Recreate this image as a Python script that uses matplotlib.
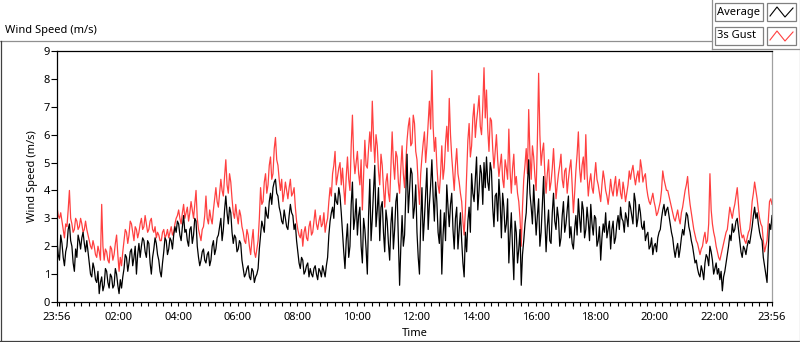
import matplotlib
matplotlib.use("Agg")
import matplotlib.pyplot as plt
from matplotlib.lines import Line2D
from matplotlib.patches import Rectangle
import numpy as np

plt.rcParams['font.family'] = ['Noto Sans', 'DejaVu Sans']

# readings every 5 minutes from 23:56, plus the readings half way between them
step_min = 5

avg = [
    2.2, 1.5, 2.1, 1.3, 2.0, 2.8, 2.0, 1.1, 1.6, 2.2, 2.3, 2.1,
    2.2, 1.4, 0.9, 1.2, 0.7, 0.3, 0.9, 0.6, 1.1, 0.5, 0.9, 0.6,
    1.0, 0.3, 0.5, 1.2, 1.6, 1.4, 1.9, 1.6, 1.0, 2.1, 2.0, 2.2,
    1.6, 2.1, 1.0, 1.9, 2.1, 1.5, 0.9, 1.8, 2.2, 1.9, 2.2, 2.4,
    2.5, 2.8, 2.2, 3.1, 2.6, 2.0, 2.7, 2.4, 2.9,
    1.6, 1.5, 1.9, 1.4, 1.8, 1.5, 2.2, 1.9, 2.4, 3.0, 2.6, 3.8,
    2.8, 3.2, 2.1, 2.3, 1.9, 2.1, 1.2, 1.0, 1.3, 0.8, 1.1, 0.9,
    1.2, 2.4, 2.7, 3.4, 3.0, 3.9, 4.1, 4.4, 3.8, 3.2, 2.8, 3.0,
    2.6, 3.5, 3.1, 2.8, 1.8, 1.2, 1.5, 1.1, 1.4, 1.2, 0.9, 1.3,
    0.8, 1.1, 1.3, 0.9, 1.6, 2.9, 3.4, 3.9, 3.5, 3.8,
    2.5, 1.2, 2.8, 2.0, 4.3, 3.0, 2.4, 3.4, 1.4, 2.6, 1.0, 4.4,
    3.0, 4.9, 3.3, 2.2, 3.6, 1.8, 2.9, 1.5, 3.4, 2.6, 3.9, 0.6,
    3.1, 2.4, 5.3, 4.0, 4.6, 3.4, 2.5, 1.0, 4.1, 3.0, 4.8, 3.5,
    5.1, 2.9, 3.6, 2.1, 1.0, 3.2, 4.2, 2.7, 3.9, 1.9, 3.4, 2.6,
    2.2, 0.9, 1.8, 3.4, 4.6, 3.6, 5.2, 4.0, 4.6, 5.0,
    5.2, 4.0, 4.7, 2.7, 3.9, 4.4, 2.3, 3.4, 2.8, 1.4, 3.2, 0.8,
    2.5, 1.9, 0.6, 2.2, 3.2, 5.1, 3.4, 4.2, 2.4, 3.7, 2.5, 4.5,
    1.8, 3.3, 2.1, 3.9, 2.6, 3.0, 2.3, 3.6, 2.8, 3.8, 2.7, 1.9,
    3.1, 3.7, 2.5, 3.3, 2.6, 2.9, 3.5, 2.4, 3.0, 2.2, 1.5, 2.8,
    3.2, 2.6, 1.9, 2.9, 2.3, 3.1, 3.4, 2.9, 3.2, 2.7,
    3.4, 2.8, 3.6, 3.0, 3.2, 2.6, 2.2, 2.5, 2.0, 1.7, 2.1, 2.3,
    2.6, 3.3, 3.1, 3.4, 2.8, 2.3, 1.6, 2.1, 1.9, 2.6, 2.8, 3.1,
    2.5, 2.0, 1.4, 1.2, 0.9, 1.1, 1.4, 1.6, 2.0, 1.5, 1.2, 1.0,
    0.8, 0.4, 1.1, 1.7, 2.4, 2.8, 2.6, 3.0, 2.2, 1.6, 1.9, 2.0,
    2.1, 2.7, 3.4, 3.2, 2.5, 2.2, 1.3, 0.7, 2.8, 3.1,
]

avg_mid = [
    1.7, 2.4, 1.6, 1.8, 2.6, 2.2, 1.4, 1.9, 2.4, 1.9, 2.5, 1.8,
    1.8, 1.0, 1.4, 0.8, 1.1, 0.7, 0.4, 1.2, 0.7, 1.0, 0.5, 1.2,
    0.6, 0.8, 0.9, 1.7, 1.1, 1.8, 1.3, 2.0, 1.7, 1.6, 2.3, 1.8,
    2.2, 1.4, 1.6, 2.3, 1.7, 1.1, 1.4, 2.3, 1.7, 2.3, 1.9, 2.7,
    2.9, 2.4, 2.7, 2.5, 2.2, 2.6, 2.1, 3.0, 2.0,
    1.3, 1.8, 1.5, 1.7, 1.3, 2.0, 1.7, 2.3, 2.7, 2.2, 3.3, 3.2,
    3.4, 2.5, 2.4, 1.8, 2.2, 1.5, 0.9, 1.2, 0.9, 1.2, 0.7, 1.0,
    1.9, 2.9, 2.5, 3.1, 3.6, 3.5, 4.3, 3.9, 3.4, 2.9, 3.3, 2.7,
    3.1, 3.2, 2.6, 2.2, 1.4, 1.6, 1.0, 1.3, 0.9, 1.0, 1.2, 1.0,
    1.2, 0.9, 1.1, 1.3, 2.4, 3.2, 3.0, 3.6, 4.1, 3.2,
    1.8, 2.2, 1.6, 3.5, 2.6, 3.7, 3.1, 2.0, 3.0, 1.9, 3.1, 2.2,
    4.0, 2.7, 4.1, 3.4, 2.5, 3.3, 2.1, 2.8, 1.9, 3.6, 2.2, 2.0,
    2.0, 3.8, 3.2, 4.8, 3.0, 4.2, 1.6, 2.9, 2.2, 3.9, 2.6, 4.2,
    3.8, 4.3, 2.5, 3.3, 2.4, 2.2, 3.4, 3.5, 2.6, 3.0, 1.9, 3.2,
    1.4, 2.5, 2.9, 2.5, 3.9, 4.4, 3.3, 4.9, 3.5, 4.1,
    4.3, 5.0, 3.4, 3.8, 2.9, 3.6, 3.9, 2.5, 3.7, 2.4, 1.9, 2.9,
    1.4, 2.6, 1.7, 2.8, 4.2, 3.9, 2.8, 3.3, 3.1, 2.0, 3.5, 3.0,
    2.7, 2.2, 3.2, 2.9, 3.4, 2.0, 3.1, 2.5, 3.3, 2.3, 2.1, 2.6,
    2.4, 3.0, 3.6, 2.3, 3.4, 2.2, 2.8, 3.1, 2.0, 2.7, 2.3, 2.5,
    2.3, 2.9, 2.6, 2.1, 2.8, 2.6, 3.0, 2.5, 3.0, 3.6,
    3.1, 3.9, 2.7, 3.5, 2.7, 2.9, 2.4, 1.9, 2.3, 2.0, 1.8, 2.5,
    3.0, 3.5, 3.3, 3.1, 2.5, 1.9, 1.9, 1.6, 2.3, 2.4, 3.2, 2.7,
    2.2, 1.7, 1.5, 1.0, 1.3, 0.8, 1.7, 1.3, 1.8, 1.0, 1.4, 1.2,
    1.1, 0.9, 1.4, 2.0, 2.2, 2.5, 2.9, 2.6, 1.8, 2.0, 1.7, 2.2,
    2.4, 3.1, 3.0, 2.8, 2.3, 1.6, 1.0, 1.9, 2.6,
]

gust = [
    3.4, 3.0, 2.9, 2.3, 2.7, 4.0, 2.8, 2.6, 2.9, 2.7, 2.8, 2.6,
    2.6, 2.2, 1.9, 2.0, 1.6, 1.8, 3.5, 1.5, 1.8, 1.4, 1.9, 1.7,
    2.4, 1.1, 1.3, 2.2, 2.5, 2.4, 2.8, 2.2, 2.6, 2.5, 3.0, 2.7,
    2.8, 2.6, 3.0, 2.5, 2.3, 2.4, 2.2, 2.6, 2.4, 2.3, 2.7, 2.5,
    3.0, 3.3, 2.8, 3.5, 3.2, 2.9, 3.6, 3.0, 4.0,
    2.6, 2.2, 2.7, 3.8, 2.8, 3.0, 3.3, 4.1, 3.4, 4.4, 3.8, 5.1,
    3.9, 4.3, 3.2, 3.5, 2.8, 3.1, 2.5, 2.1, 2.4, 1.7, 2.6, 1.6,
    2.2, 4.1, 3.6, 4.6, 4.2, 5.2, 4.6, 5.9, 4.9, 4.0, 3.6, 4.3,
    3.7, 4.4, 3.9, 3.4, 2.6, 2.3, 2.0, 2.7, 2.2, 2.9, 2.5, 3.3,
    2.6, 3.1, 2.8, 2.5, 3.0, 4.1, 4.6, 5.4, 4.5, 5.0,
    4.8, 3.5, 5.2, 4.0, 6.7, 4.6, 5.4, 4.2, 3.3, 5.8, 4.8, 6.1,
    7.2, 5.0, 5.6, 4.2, 4.9, 3.4, 4.6, 3.6, 6.1, 4.4, 5.2, 3.9,
    5.6, 4.1, 5.8, 6.6, 5.7, 6.4, 5.1, 3.5, 5.2, 6.1, 5.6, 7.2,
    8.3, 5.4, 4.9, 3.9, 5.6, 4.8, 6.3, 7.3, 5.2, 4.0, 5.5, 4.3,
    3.6, 2.4, 4.5, 6.4, 5.6, 7.1, 6.5, 7.4, 6.0, 8.4,
    7.6, 5.4, 6.5, 4.8, 6.0, 4.5, 5.3, 4.1, 4.8, 6.2, 3.9, 5.3,
    4.5, 3.6, 2.0, 4.4, 5.5, 6.9, 4.4, 5.2, 4.0, 8.2, 4.9, 5.7,
    3.9, 5.1, 4.3, 5.5, 3.7, 4.6, 5.3, 4.1, 4.8, 4.4, 5.1, 3.2,
    4.7, 6.1, 4.3, 5.2, 6.0, 3.8, 4.6, 3.9, 5.0, 4.2, 3.6, 4.7,
    4.0, 3.5, 4.4, 3.8, 4.5, 4.1, 3.9, 4.3, 3.6, 4.2,
    4.4, 4.9, 4.2, 4.7, 5.1, 4.3, 4.6, 3.8, 3.5, 3.9, 3.4, 3.2,
    3.6, 4.7, 4.2, 4.0, 3.6, 3.2, 2.9, 3.3, 2.8, 3.4, 4.0, 4.5,
    3.5, 2.9, 2.4, 2.1, 1.7, 2.0, 2.5, 2.2, 4.6, 2.8, 2.3, 1.8,
    1.5, 1.9, 2.3, 2.6, 3.4, 3.0, 3.5, 4.1, 2.9, 2.3, 2.2, 2.3,
    2.6, 3.6, 4.3, 3.7, 3.0, 2.7, 1.8, 2.2, 3.6, 3.5,
]

gust_mid = [
    3.1, 3.2, 2.6, 2.8, 3.3, 3.0, 2.5, 3.0, 2.6, 3.0, 2.5, 2.9,
    2.4, 2.0, 2.2, 1.7, 2.0, 1.5, 2.0, 1.9, 1.5, 2.0, 1.5, 2.1,
    1.7, 1.6, 1.8, 2.6, 2.1, 2.9, 2.5, 2.7, 2.3, 2.8, 2.6, 3.1,
    2.5, 2.9, 2.6, 2.7, 2.5, 2.2, 2.5, 2.3, 2.6, 2.5, 2.4, 2.8,
    3.1, 3.0, 3.2, 3.0, 3.4, 3.2, 3.3, 3.5, 3.0,
    2.4, 2.6, 3.1, 3.0, 3.3, 2.8, 3.7, 3.6, 3.9, 4.0, 4.5, 4.2,
    4.6, 3.7, 3.0, 3.1, 3.3, 2.7, 2.2, 2.6, 2.0, 2.2, 1.8, 1.9,
    3.0, 3.5, 4.3, 3.9, 4.9, 4.4, 5.5, 5.1, 4.4, 4.4, 3.9, 4.0,
    4.1, 3.8, 4.1, 2.9, 2.4, 2.6, 2.5, 2.3, 2.7, 2.4, 2.9, 2.8,
    2.9, 2.7, 3.2, 2.8, 3.6, 3.8, 4.9, 4.2, 4.8, 4.2,
    4.1, 4.5, 4.4, 5.6, 5.2, 5.0, 4.6, 5.1, 4.5, 4.9, 5.5, 5.4,
    5.9, 6.0, 4.7, 5.3, 4.1, 4.3, 3.9, 4.9, 5.0, 5.4, 4.3, 4.8,
    4.6, 5.0, 6.3, 5.6, 6.7, 5.4, 4.2, 4.6, 5.7, 5.0, 6.4, 6.2,
    6.3, 5.9, 4.2, 4.6, 4.4, 5.7, 5.4, 6.0, 4.6, 4.9, 4.6, 3.9,
    2.9, 3.3, 5.8, 5.2, 6.6, 5.9, 6.9, 6.3, 7.0, 6.6,
    6.2, 6.6, 5.5, 5.4, 5.1, 4.9, 4.4, 5.1, 4.4, 4.7, 4.8, 4.2,
    3.9, 3.0, 3.4, 4.9, 4.6, 5.3, 5.6, 4.5, 5.8, 6.0, 5.4, 4.6,
    4.6, 4.0, 4.8, 4.6, 4.2, 4.9, 4.4, 4.7, 3.9, 4.8, 4.2, 3.9,
    5.3, 4.8, 4.9, 4.4, 4.6, 4.3, 4.1, 4.5, 4.4, 3.9, 4.2, 4.4,
    3.8, 3.9, 4.0, 4.2, 3.8, 4.4, 3.7, 4.0, 3.9, 4.7,
    4.7, 4.5, 4.5, 4.3, 4.8, 4.5, 4.1, 3.6, 3.7, 3.6, 3.1, 3.4,
    4.0, 4.4, 4.0, 3.8, 3.4, 3.0, 3.1, 3.0, 3.2, 3.7, 4.2, 3.9,
    3.2, 2.6, 2.2, 1.9, 1.9, 2.3, 2.1, 2.8, 3.3, 2.5, 2.0, 1.6,
    1.7, 2.1, 2.5, 3.0, 3.2, 3.3, 3.8, 3.5, 2.5, 2.4, 2.1, 2.5,
    3.0, 3.9, 4.0, 3.3, 2.8, 2.2, 2.0, 2.9, 3.7,
]

x_ticks_min = [0, 124, 244, 364, 484, 604, 724, 844, 964, 1084, 1204, 1324, 1440]
x_tick_labels = ["23:56", "02:00", "04:00", "06:00", "08:00", "10:00", "12:00",
                 "14:00", "16:00", "18:00", "20:00", "22:00", "23:56"]


def merge(on_step, half_way):
    # put the half-way readings between the 5 minute readings
    out = np.empty(len(on_step) + len(half_way))
    out[0::2] = on_step
    out[1::2] = half_way
    return out


avg_all = merge(avg, avg_mid)
gust_all = merge(gust, gust_mid)
t = np.arange(len(avg_all)) * step_min / 2

W, H = 800, 342
fig = plt.figure(figsize=(W / 100, H / 100), dpi=100)
ax = fig.add_axes([57 / W, 1 - 302 / H, (772 - 57) / W, (302 - 51) / H])

ax.plot(t, gust_all, color="#ff4040", lw=0.9)
ax.plot(t, avg_all, color="black", lw=0.9)

ax.set_xlim(0, 1440)
ax.set_ylim(0, 9)
ax.set_yticks(range(10))
ax.set_xticks(x_ticks_min)
ax.set_xticklabels(x_tick_labels)
ax.set_xticks([4] + list(range(19, 1440, 15)), minor=True)
ax.tick_params(axis="y", length=4, width=0.8, labelsize=8, pad=1)
ax.tick_params(axis="x", which="both", length=3, width=0.8, labelsize=8, pad=4.5)
ax.set_ylabel("Wind Speed (m/s)", fontsize=8, labelpad=4)
ax.set_xlabel("Time", fontsize=8, labelpad=3)

for s in ["left", "bottom", "top"]:
    ax.spines[s].set_color("black")
    ax.spines[s].set_linewidth(0.9)
ax.spines["right"].set_color("#a0a0a0")
ax.spines["right"].set_linewidth(0.9)

fig.text(5 / W, 1 - 31 / H, "Wind Speed (m/s)", fontsize=8, va="center", ha="left")


def fx(px):
    return px / W


def fy(py):
    return 1 - py / H


# outer frame
frame = [
    ([0, 712], [41, 41], "#909090"),
    ([712, 712], [0, 49], "#909090"),
    ([712, 800], [49, 49], "#909090"),
    ([0.5, 0.5], [41, 341], "#404040"),
    ([0, 800], [341, 341], "#404040"),
    ([799.5, 799.5], [0, 341], "#b0b0b0"),
]
for xs, ys, c in frame:
    fig.add_artist(Line2D([fx(v) for v in xs], [fy(v) for v in ys], color=c, lw=0.9))

# legend panel
legend_rows = [("Average", "black", 3), ("3s Gust", "#ff4040", 27)]
for label, color, top in legend_rows:
    fig.add_artist(Rectangle((fx(715), fy(top + 18)), 48 / W, 18 / H,
                             facecolor="white", edgecolor="#808080", lw=0.9))
    fig.add_artist(Rectangle((fx(767), fy(top + 18)), 29 / W, 18 / H,
                             facecolor="white", edgecolor="#808080", lw=0.9))
    fig.text(fx(717), fy(top + 9), label, fontsize=8, va="center", ha="left")
    zx = [770, 777, 785, 793]
    zy = [top + 13, top + 4, top + 14, top + 5]
    fig.add_artist(Line2D([fx(v) for v in zx], [fy(v) for v in zy], color=color, lw=0.8))

fig.savefig("out.png", dpi=100)
